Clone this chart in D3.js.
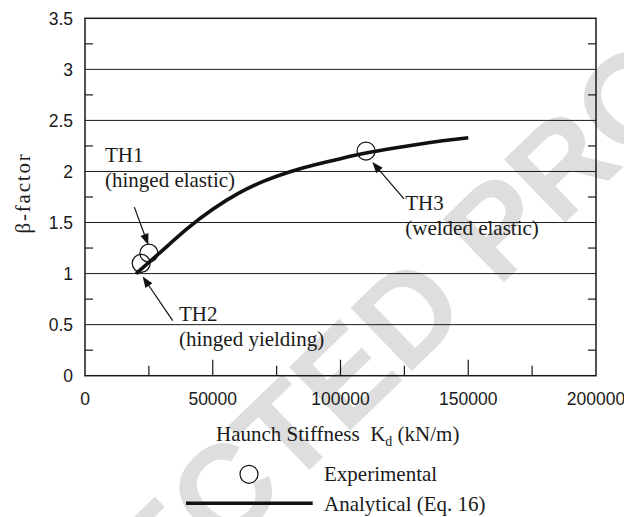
<!DOCTYPE html>
<html><head><meta charset="utf-8">
<script src="https://cdn.jsdelivr.net/npm/d3@7"></script>
<style>body{margin:0;background:#fff}</style>
</head><body><svg id="c" width="624" height="517"></svg>
<script>
// ---------------- data ----------------
const xTicks = [0, 50000, 100000, 150000, 200000];
const xMinorTicks = [25000, 75000, 125000, 175000];
const yTicks = [0, 0.5, 1, 1.5, 2, 2.5, 3, 3.5];
const yMinorTicks = [0.25, 0.75, 1.25, 1.75, 2.25, 2.75, 3.25];
const yTickLabels = ["0", "0.5", "1", "1.5", "2", "2.5", "3", "3.5"];

const analyticalK    = [20000, 30000, 40000, 50000, 60000, 70000, 80000, 90000, 100000, 110000, 120000, 130000, 140000, 150000];
const analyticalBeta = [1.00, 1.22, 1.44, 1.63, 1.785, 1.905, 1.995, 2.065, 2.125, 2.18, 2.225, 2.265, 2.30, 2.33];

const expNames  = ["TH1", "TH2", "TH3"];
const expLabels = ["(hinged elastic)", "(hinged yielding)", "(welded elastic)"];
const expK      = [25000, 22000, 110000];
const expBeta   = [1.2, 1.1, 2.2];

// annotation anchors (data units): arrow tail, arrow tip, text position
const arrowTailK = [19300, 34320, 124850];
const arrowTailB = [1.651, 0.539, 1.732];
const arrowTipK  = [24770, 22580, 112450];
const arrowTipB  = [1.281, 0.971, 2.092];
const textK      = [7830, 36790, 125360];
const textB      = [2.088, 0.539, 1.618];

const legendNames = ["Experimental", "Analytical (Eq. 16)"];

// ---------------- layout ----------------
const W = 624, H = 517;
const svg = d3.select("#c");
const x = d3.scaleLinear().domain([0, 200000]).range([85, 596]);
const y = d3.scaleLinear().domain([0, 3.5]).range([375.7, 18.3]);
const serif = "'Liberation Serif','Times New Roman',serif";
const sans = "'Liberation Sans',Arial,Helvetica,sans-serif";

// watermark
svg.append("text")
  .attr("transform", "translate(357,424) rotate(-44)")
  .attr("text-anchor", "middle")
  .attr("font-family", sans).attr("font-weight", "bold")
  .attr("font-size", 128).attr("fill", "#dedede")
  .text("CORRECTED PROOF");

// gridlines
svg.append("g").selectAll("line").data(yTicks.slice(1, -1)).join("line")
  .attr("x1", x(0)).attr("x2", x(200000))
  .attr("y1", d => y(d)).attr("y2", d => y(d))
  .attr("stroke", "#1a1a1a").attr("stroke-width", 1);

// minor y ticks left/right
const gT = svg.append("g").attr("stroke", "#1a1a1a").attr("stroke-width", 1.2);
yMinorTicks.forEach(v => {
  gT.append("line").attr("x1", x(0)).attr("x2", x(0) + 8).attr("y1", y(v)).attr("y2", y(v));
  gT.append("line").attr("x1", x(200000) - 8).attr("x2", x(200000)).attr("y1", y(v)).attr("y2", y(v));
});
// x ticks (inside)
xTicks.slice(1, -1).forEach(v => {
  gT.append("line").attr("x1", x(v)).attr("x2", x(v)).attr("y1", y(0)).attr("y2", y(0) - 16);
});
xMinorTicks.forEach(v => {
  gT.append("line").attr("x1", x(v)).attr("x2", x(v)).attr("y1", y(0)).attr("y2", y(0) - 10);
});

// frame
svg.append("rect").attr("x", x(0)).attr("y", y(3.5))
  .attr("width", x(200000) - x(0)).attr("height", y(0) - y(3.5))
  .attr("fill", "none").attr("stroke", "#1a1a1a").attr("stroke-width", 1.5);

// tick labels
svg.append("g").selectAll("text").data(yTicks).join("text")
  .attr("x", 73).attr("y", d => y(d)).attr("dy", "0.36em")
  .attr("text-anchor", "end").attr("font-family", sans).attr("font-size", 17.5)
  .attr("fill", "#1a1a1a")
  .text((d, i) => yTickLabels[i]);
svg.append("g").selectAll("text").data(xTicks).join("text")
  .attr("x", d => x(d)).attr("y", 405.3)
  .attr("text-anchor", "middle").attr("font-family", sans).attr("font-size", 17.5)
  .attr("fill", "#1a1a1a")
  .text(d => d3.format("d")(d));

// axis titles
svg.append("text")
  .attr("transform", "translate(30,193) rotate(-90)")
  .attr("text-anchor", "middle").attr("font-family", serif).attr("font-size", 21)
  .attr("letter-spacing", 1.8).attr("fill", "#1a1a1a")
  .text("β-factor");
const xt = svg.append("text").attr("x", 216).attr("y", 440.7)
  .attr("font-family", serif).attr("font-size", 21).attr("fill", "#1a1a1a")
  .attr("xml:space", "preserve");
xt.append("tspan").text("Haunch Stiffness  K");
xt.append("tspan").attr("font-size", 14).attr("dy", 5).text("d");
xt.append("tspan").attr("dy", -5).text(" (kN/m)");

// analytical curve
const curveData = analyticalK.map((k, i) => [k, analyticalBeta[i]]);
svg.append("path").datum(curveData)
  .attr("d", d3.line().x(d => x(d[0])).y(d => y(d[1])).curve(d3.curveNatural))
  .attr("fill", "none").attr("stroke", "#111").attr("stroke-width", 3.6)
  .attr("stroke-linecap", "butt");

// experimental points
svg.append("g").selectAll("circle").data(expK).join("circle")
  .attr("cx", d => x(d)).attr("cy", (d, i) => y(expBeta[i])).attr("r", 9)
  .attr("fill", "none").attr("stroke", "#111").attr("stroke-width", 1.2);

// annotations
expNames.forEach((nm, i) => {
  const x1 = x(arrowTailK[i]), y1 = y(arrowTailB[i]);
  const x2 = x(arrowTipK[i]), y2 = y(arrowTipB[i]);
  const ang = Math.atan2(y2 - y1, x2 - x1);
  const L = 11, Wd = 4.2;
  const bx = x2 - L * Math.cos(ang), by = y2 - L * Math.sin(ang);
  svg.append("line").attr("x1", x1).attr("y1", y1).attr("x2", bx + 2 * Math.cos(ang)).attr("y2", by + 2 * Math.sin(ang))
    .attr("stroke", "#111").attr("stroke-width", 1.2);
  const p = [[x2, y2],
    [bx + Wd * Math.sin(ang), by - Wd * Math.cos(ang)],
    [bx - Wd * Math.sin(ang), by + Wd * Math.cos(ang)]];
  svg.append("path").attr("d", "M" + p.map(q => q.join(",")).join("L") + "Z").attr("fill", "#111");
  const t = svg.append("text").attr("x", x(textK[i])).attr("y", y(textB[i]))
    .attr("font-family", serif).attr("font-size", 21).attr("fill", "#1a1a1a");
  t.append("tspan").attr("x", x(textK[i])).text(nm);
  t.append("tspan").attr("x", x(textK[i])).attr("dy", 25).text(expLabels[i]);
});

// legend
const lg = svg.append("g");
lg.append("circle").attr("cx", 249).attr("cy", 474.3).attr("r", 9)
  .attr("fill", "none").attr("stroke", "#111").attr("stroke-width", 1.2);
lg.append("line").attr("x1", 186).attr("x2", 312.7).attr("y1", 503.3).attr("y2", 503.3)
  .attr("stroke", "#111").attr("stroke-width", 3.6);
lg.selectAll("text").data(legendNames).join("text")
  .attr("x", 324).attr("y", (d, i) => [480.7, 510.5][i])
  .attr("font-family", serif).attr("font-size", 21).attr("fill", "#1a1a1a")
  .text(d => d);
</script></body></html>
